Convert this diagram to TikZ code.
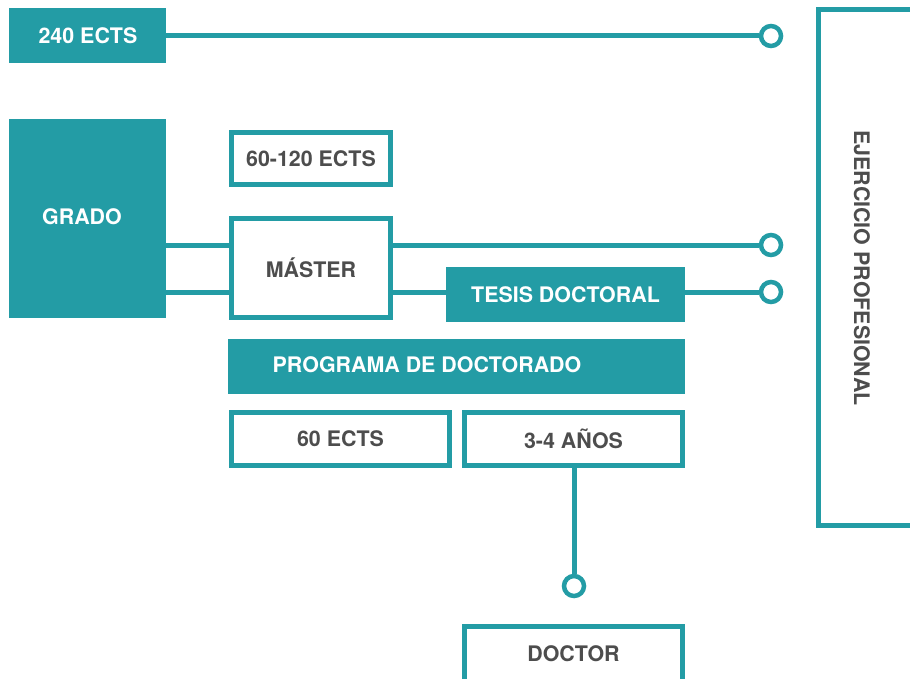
\documentclass[tikz,border=0pt]{standalone}
\usepackage{fontspec}
\setmainfont{TeX Gyre Heros}
\definecolor{teal1}{HTML}{239CA5}
\definecolor{gtext}{HTML}{4D4D4D}
\tikzset{
  fillbox/.style={fill=teal1, draw=none, text=white, font=\bfseries\fontsize{21.4}{24}\selectfont, inner sep=0pt},
  linebox/.style={draw=teal1, fill=white, line width=5.5pt, text=gtext, font=\bfseries\fontsize{21.4}{24}\selectfont, inner sep=0pt},
  conn/.style={draw=teal1, line width=5pt},
  endc/.style={circle, draw=teal1, fill=white, line width=4.5pt, minimum size=20pt, inner sep=0pt},
  lbl/.style={font=\bfseries\fontsize{21.4}{24}\selectfont, inner sep=0pt}
}
\begin{document}
\begin{tikzpicture}[x=1pt,y=-1pt]
\useasboundingbox (0,0) rectangle (910,679);
% filled boxes
\node[fillbox, minimum width=157pt, minimum height=55pt] (ects240) at (87.5,35.5) {};
\node[lbl, text=white] (t240) at (88,35.5) {240 ECTS};
\node[fillbox, minimum width=157pt, minimum height=199pt] (grado) at (87.5,218.5) {};
\node[lbl, text=white] (tgrado) at (82,217) {GRADO};
\node[fillbox, minimum width=239pt, minimum height=55pt] (tesis) at (565.5,294.5) {TESIS DOCTORAL};
\node[fillbox, minimum width=457pt, minimum height=55pt] (prog) at (456.5,366.5) {};
\node[lbl, text=white] (tprog) at (427,365) {PROGRAMA DE DOCTORADO};
% outlined boxes
\node[linebox, minimum width=159pt, minimum height=52pt] (ects60120) at (311,158.5) {60-120 ECTS};
\node[linebox, minimum width=159pt, minimum height=99pt] (master) at (311,268) {MÁSTER};
\node[linebox, minimum width=218pt, minimum height=53pt] (ects60) at (340.5,439) {60 ECTS};
\node[linebox, minimum width=218pt, minimum height=53pt] (anos) at (573.5,439) {3-4 AÑOS};
\node[linebox, minimum width=218pt, minimum height=55pt] (doctor) at (573.5,654) {DOCTOR};
% right frame
\draw[teal1, line width=5pt] (915,9.5) -- (818.5,9.5) -- (818.5,525.5) -- (915,525.5);
\node[lbl, text=gtext, rotate=-90] (ejer) at (862,268) {EJERCICIO PROFESIONAL};
% end circles
\node[endc] (c1) at (771,36) {};
\node[endc] (c2) at (771,245) {};
\node[endc] (c3) at (771,292) {};
\node[endc] (c4) at (574,586) {};
% connectors
\draw[conn] (ects240.east |- c1) -- (c1);
\draw[conn] (grado.east |- c2) -- (master.west |- c2);
\draw[conn] (grado.east |- c3) -- (master.west |- c3);
\draw[conn] (master.east |- c2) -- (c2);
\draw[conn] (master.east |- c3) -- (tesis.west |- c3);
\draw[conn] (tesis.east |- c3) -- (c3);
\draw[conn] (anos.south -| c4) -- (c4);
\end{tikzpicture}
\end{document}
